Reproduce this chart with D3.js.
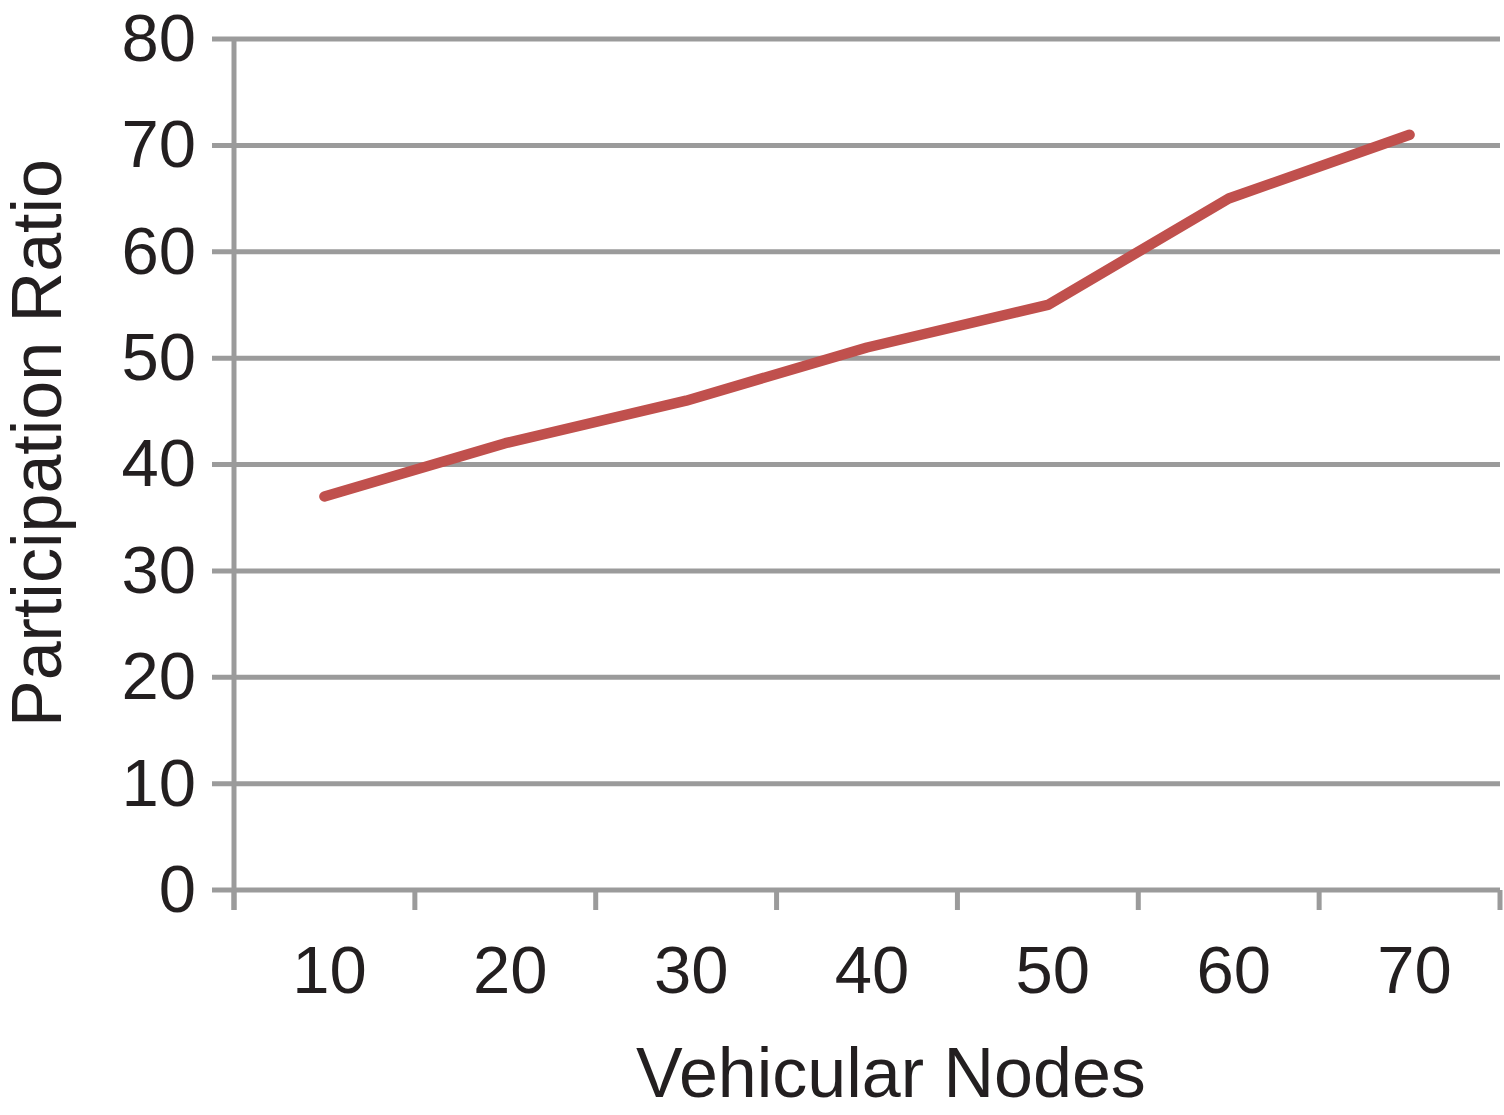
<!DOCTYPE html>
<html>
<head>
<meta charset="utf-8">
<script src="https://cdn.jsdelivr.net/npm/d3@7"></script>
<style>
  body { margin: 0; background: #fff; }
  text { font-family: "Liberation Sans", Arial, sans-serif; fill: #231f20; }
</style>
</head>
<body>
<div id="app"></div>
<script>
const nodes = [10, 20, 30, 40, 50, 60, 70];
const ratio = [37, 42, 46, 51, 55, 65, 71];
const yTicks = [0, 10, 20, 30, 40, 50, 60, 70, 80];

const chart = () => {
  const width = 1504;
  const height = 1115;
  const marginTop = 39;
  const marginRight = 4;
  const marginBottom = 225;
  const marginLeft = 234;
  const grey = "#9b9b9b";

  const x = d3
    .scaleBand()
    .domain(nodes)
    .range([marginLeft, width - marginRight])
    .padding(0);

  const y = d3
    .scaleLinear()
    .domain([0, 80])
    .range([height - marginBottom, marginTop]);

  const svg = d3.create("svg").attr("width", width).attr("height", height);

  // gridlines
  svg
    .append("g")
    .selectAll("line")
    .data(yTicks)
    .join("line")
    .attr("x1", marginLeft - 22)
    .attr("x2", width - marginRight)
    .attr("y1", (d) => y(d))
    .attr("y2", (d) => y(d))
    .attr("stroke", grey)
    .attr("stroke-width", 5);

  // y axis
  const yAxis = svg
    .append("g")
    .attr("transform", `translate(${marginLeft - 22},0)`)
    .call(d3.axisLeft(y).tickValues(yTicks).tickSize(0).tickPadding(16));
  yAxis.select(".domain").remove();
  yAxis.selectAll("text").attr("font-size", 67).attr("fill", "#231f20")
    .attr("font-family", "Liberation Sans, Arial, sans-serif");

  svg
    .append("line")
    .attr("x1", marginLeft)
    .attr("x2", marginLeft)
    .attr("y1", y(80) - 2)
    .attr("y2", y(0) + 20)
    .attr("stroke", grey)
    .attr("stroke-width", 5);

  // x axis ticks at band edges
  const edges = nodes.map((d) => x(d)).concat([x(nodes[nodes.length - 1]) + x.bandwidth()]);
  svg
    .append("g")
    .selectAll("line")
    .data(edges)
    .join("line")
    .attr("x1", (d) => Math.min(d, width - 3))
    .attr("x2", (d) => Math.min(d, width - 3))
    .attr("y1", y(0))
    .attr("y2", y(0) + 20)
    .attr("stroke", grey)
    .attr("stroke-width", 5);

  const xAxis = svg
    .append("g")
    .attr("transform", `translate(5,${y(0)})`)
    .call(d3.axisBottom(x).tickSize(0).tickPadding(55));
  xAxis.select(".domain").remove();
  xAxis.selectAll("text").attr("font-size", 67).attr("fill", "#231f20")
    .attr("font-family", "Liberation Sans, Arial, sans-serif");

  // line
  const line = d3
    .line()
    .x((d, i) => x(nodes[i]) + x.bandwidth() / 2)
    .y((d) => y(d));

  svg
    .append("path")
    .datum(ratio)
    .attr("fill", "none")
    .attr("stroke", "#c0504d")
    .attr("stroke-width", 10.5)
    .attr("stroke-linecap", "round")
    .attr("stroke-linejoin", "round")
    .attr("d", line);

  // titles
  svg
    .append("text")
    .text("Participation Ratio")
    .attr("transform", "rotate(-90)")
    .attr("x", -443)
    .attr("y", 61)
    .attr("text-anchor", "middle")
    .attr("font-size", 70);

  svg
    .append("text")
    .text("Vehicular Nodes")
    .attr("x", 891)
    .attr("y", 1097)
    .attr("text-anchor", "middle")
    .attr("font-size", 70);

  return svg.node();
};

d3.select("#app").append(chart);
</script>
</body>
</html>
